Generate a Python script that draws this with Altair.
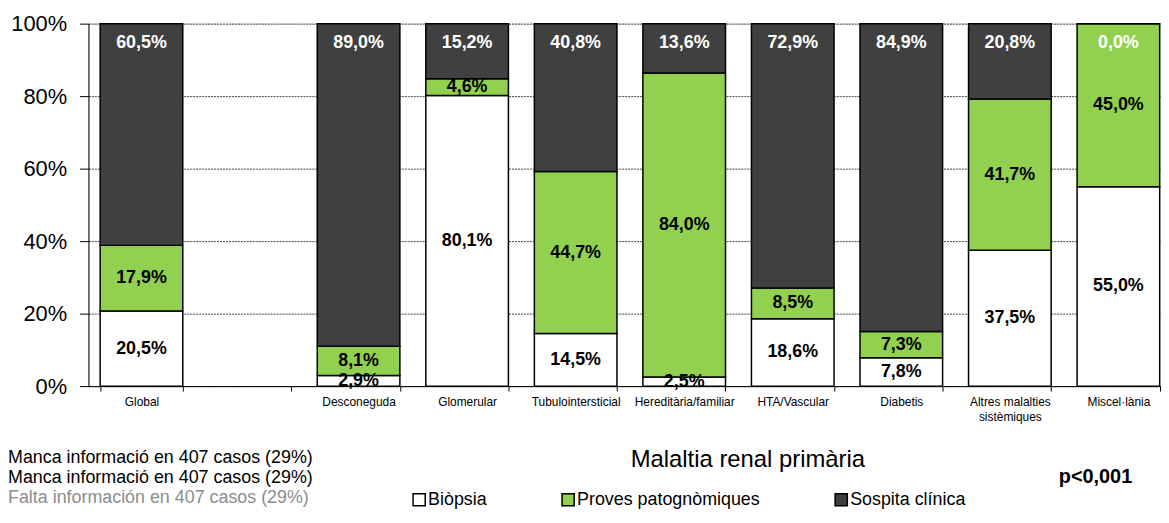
import altair as alt
import pandas as pd

categorias = ["Global", " ", "Desconeguda", "Glomerular", "Tubulointersticial",
              "Hereditària/familiar", "HTA/Vascular", "Diabetis",
              "Altres malalties|sistèmiques", "Miscel·lània"]
tipus = ["Biòpsia", "Proves patognòmiques", "Sospita clínica"]
colors = ["#FFFFFF", "#92D050", "#404040"]

biopsia = [20.5, None, 2.9, 80.1, 14.5, 2.5, 18.6, 7.8, 37.5, 55.0]
proves = [17.9, None, 8.1, 4.6, 44.7, 84.0, 8.5, 7.3, 41.7, 45.0]
sospita = [60.5, None, 89.0, 15.2, 40.8, 13.6, 72.9, 84.9, 20.8, 0.0]

notes = ["Manca informació en 407 casos (29%)",
         "Manca informació en 407 casos (29%)",
         "Falta información en 407 casos (29%)"]
note_colors = ["#000000", "#000000", "#8C8C8C"]

rows = []
for i, c in enumerate(categorias):
    for k, serie in enumerate([biopsia, proves, sospita]):
        v = serie[i]
        if v is None:
            continue
        rows.append({"cat": c, "tipus": tipus[k], "ord": k, "valor": v,
                     "etiq": f"{v:.1f}%".replace(".", ",")})
df = pd.DataFrame(rows)

FONT = "Liberation Sans"

base = alt.Chart(df).transform_stack(
    stack="valor", groupby=["cat"], as_=["lo", "hi"], offset="normalize",
    sort=[alt.SortField("ord")]
).transform_calculate(mid="(datum.lo + datum.hi) / 2")

yscale = alt.Scale(domain=[0, 1], nice=False)
xscale = alt.Scale(domain=categorias, paddingInner=0.239, paddingOuter=0.06, align=0.9)

xenc = alt.X("cat:N", sort=categorias, scale=xscale,
             axis=alt.Axis(title=None, labelAngle=0, labelFontSize=12, labelColor="#000",
                           labelFont=FONT, labelPadding=6, tickBand="extent", tickSize=5,
                           tickColor="#000", domainColor="#000", labelLimit=200,
                           labelLineHeight=15,
                           labelExpr="split(datum.label, '|')", grid=False))

bars = base.mark_bar(stroke="#000", strokeWidth=1.5).encode(
    x=xenc,
    y=alt.Y("lo:Q", scale=yscale,
            axis=alt.Axis(title=None, format=".0%", values=[0, 0.2, 0.4, 0.6, 0.8, 1.0],
                          labelFontSize=22, labelFont=FONT, labelColor="#000", labelPadding=13,
                          tickSize=9, tickColor="#000", domainColor="#000",
                          gridColor="#444", gridDash=[2, 1], gridWidth=1)),
    y2="hi:Q",
    fill=alt.Fill("tipus:N", scale=alt.Scale(domain=tipus, range=colors),
                  legend=alt.Legend(title=None, orient="none", legendX=324, legendY=470,
                                    direction="horizontal", symbolType="square",
                                    symbolSize=150, symbolStrokeColor="#000",
                                    symbolStrokeWidth=1.5, labelFontSize=18, labelFont=FONT,
                                    labelColor="#000", columnPadding=71, labelOffset=0,
                                    labelLimit=300)),
    order=alt.Order("ord:Q"),
)

lab_mid = base.transform_filter("datum.ord < 2").mark_text(
    fontSize=18, fontWeight="bold", font=FONT, color="#000"
).encode(x=alt.X("cat:N", sort=categorias, scale=xscale),
         y=alt.Y("mid:Q", scale=yscale), text="etiq:N")

lab_top = base.transform_filter("datum.ord == 2").mark_text(
    fontSize=18, fontWeight="bold", font=FONT, color="#FFF", dy=20
).encode(x=alt.X("cat:N", sort=categorias, scale=xscale),
         y=alt.Y("hi:Q", scale=yscale), text="etiq:N")

main = alt.layer(bars, lab_mid, lab_top)

notes_df = pd.DataFrame({"t": notes, "i": [0, 1, 2], "col": note_colors})
notes_layer = alt.Chart(notes_df).mark_text(
    align="left", baseline="middle", fontSize=18, font=FONT
).encode(
    x=alt.value(-81),
    y=alt.Y("i:Q", scale=alt.Scale(domain=[0, 2], range=[437, 478]), axis=None),
    text="t:N",
    color=alt.Color("col:N", scale=None),
)

title_layer = alt.Chart(pd.DataFrame({"t": ["Malaltia renal primària"]})).mark_text(
    fontSize=24, font=FONT, color="#000", align="center", baseline="middle"
).encode(x=alt.value(664), y=alt.value(439), text="t:N")

p_layer = alt.Chart(pd.DataFrame({"t": ["p<0,001"]})).mark_text(
    fontSize=20, font=FONT, fontWeight="bold", color="#000", align="right", baseline="middle"
).encode(x=alt.value(1051), y=alt.value(457), text="t:N")

chart = alt.layer(main, notes_layer, title_layer, p_layer).resolve_scale(
    y="independent"
).properties(
    width=1080, height=365,
    autosize=alt.AutoSizeParams(type="none"),
    padding={"left": 81, "top": 14, "right": 0, "bottom": 124},
).configure_view(stroke=None).configure(font=FONT)

chart.save("out.html", embed_options={"renderer": "svg", "actions": False})
